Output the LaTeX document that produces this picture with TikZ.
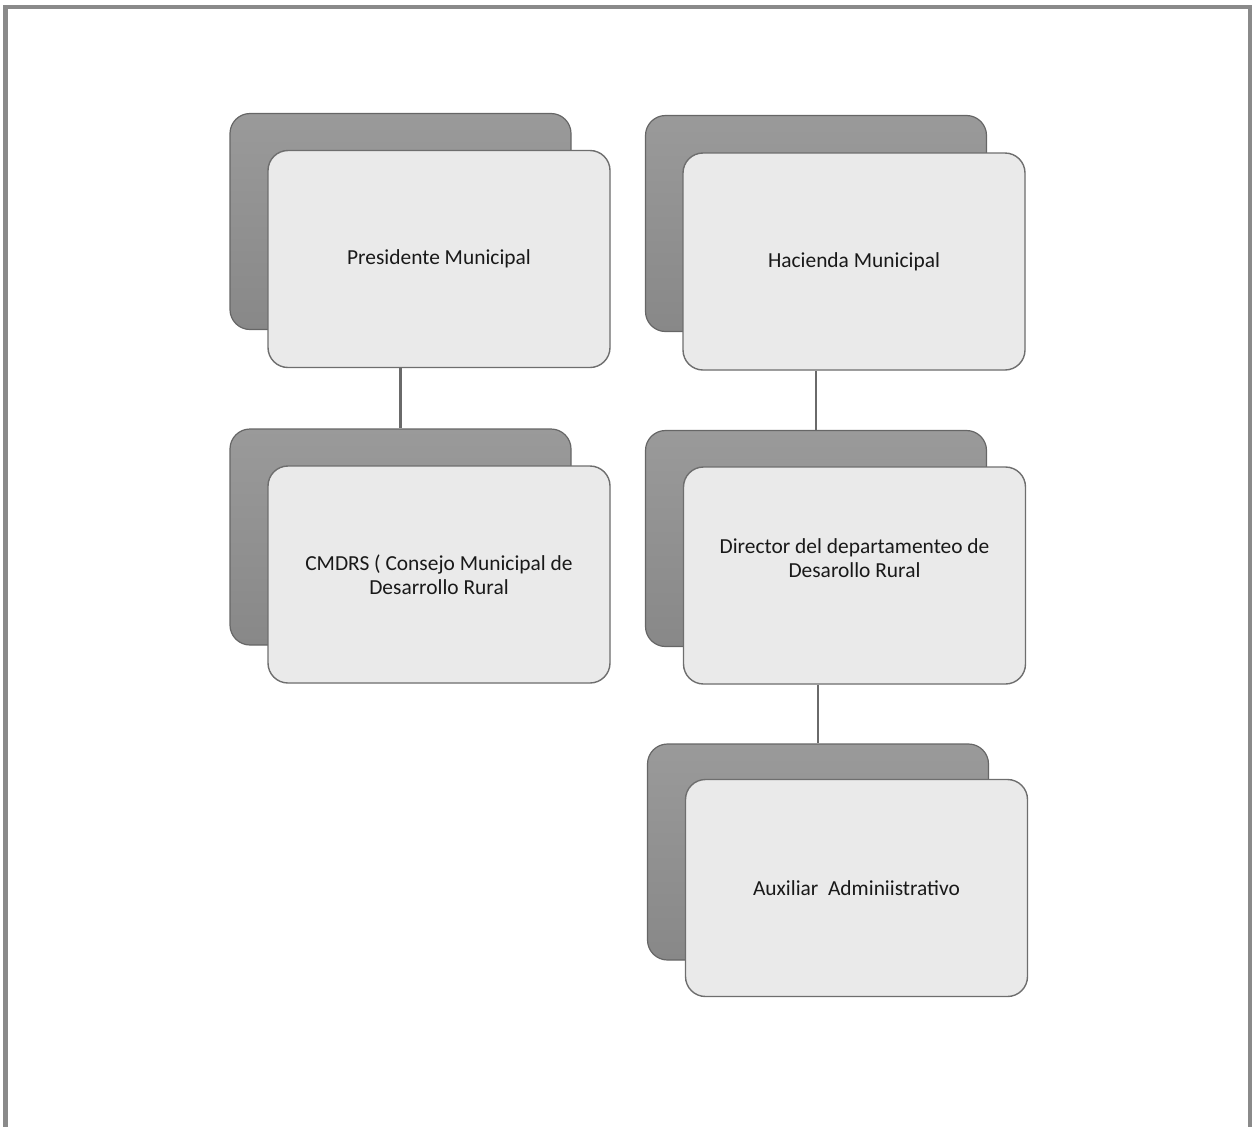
\documentclass[tikz,border=0pt]{standalone}
\usepackage{fontspec}
\setmainfont{Carlito}
\usetikzlibrary{shadows,positioning}
\definecolor{backgray}{HTML}{888888}
\definecolor{backedge}{HTML}{666666}
\definecolor{frontgray}{HTML}{EAEAEA}
\definecolor{frontedge}{HTML}{6E6E6E}
\definecolor{linegray}{HTML}{6A6A6A}
\definecolor{framegray}{HTML}{8A8A8A}
\tikzset{
  backbox/.style={draw=backedge, line width=1.2bp, rounded corners=20bp,
    top color=backgray!85, bottom color=backgray,
    minimum width=341bp, minimum height=216bp, inner sep=0pt},
  boxtext/.style={align=center, font=\fontsize{21.5}{24}\selectfont, text=black!90},
  frontbox/.style={draw=frontedge, line width=1.4bp, rounded corners=20bp,
    fill=frontgray, minimum width=342bp, minimum height=217bp, inner sep=0pt,
    boxtext,
    drop shadow={shadow xshift=0bp, shadow yshift=0bp, opacity=0.35, fill=black!60}},
  conn/.style={draw=linegray, line width=2.2bp}
}
\begin{document}
\begin{tikzpicture}[x=1bp,y=-1bp]
\useasboundingbox (0,0) rectangle (1252,1127);
\draw[framegray, line width=4.5bp] (5.5,1127) -- (5.5,7) -- (1250,7) -- (1250,1127);
% back boxes
\node[backbox] (b1) at (400.5,221.5) {};
\node[backbox] (b2) at (816,223.5) {};
\node[backbox] (b3) at (400.5,537) {};
\node[backbox] (b4) at (816,538.5) {};
\node[backbox] (b5) at (818,852) {};
% front boxes
\node[frontbox] (f1) at (439,259) {Presidente Municipal};
\node[frontbox] (f2) at (854,261.5) {Hacienda Municipal};
\node[frontbox] (f3) at (439,574.5) {CMDRS ( Consejo Municipal de\\Desarrollo Rural};
\node[frontbox, label={[boxtext, yshift=17bp]center:{Director del departamenteo de\\Desarollo Rural}}] (f4) at (854.5,575.5) {};
\node[frontbox] (f5) at (856.5,888) {Auxiliar~ Adminiistrativo};
% connectors
\draw[conn] (f1.south -| b1.north) -- (b3.north);
\draw[conn] (f2.south -| b2.north) -- (b4.north);
\draw[conn] (f4.south -| b5.north) -- (b5.north);
\end{tikzpicture}
\end{document}
